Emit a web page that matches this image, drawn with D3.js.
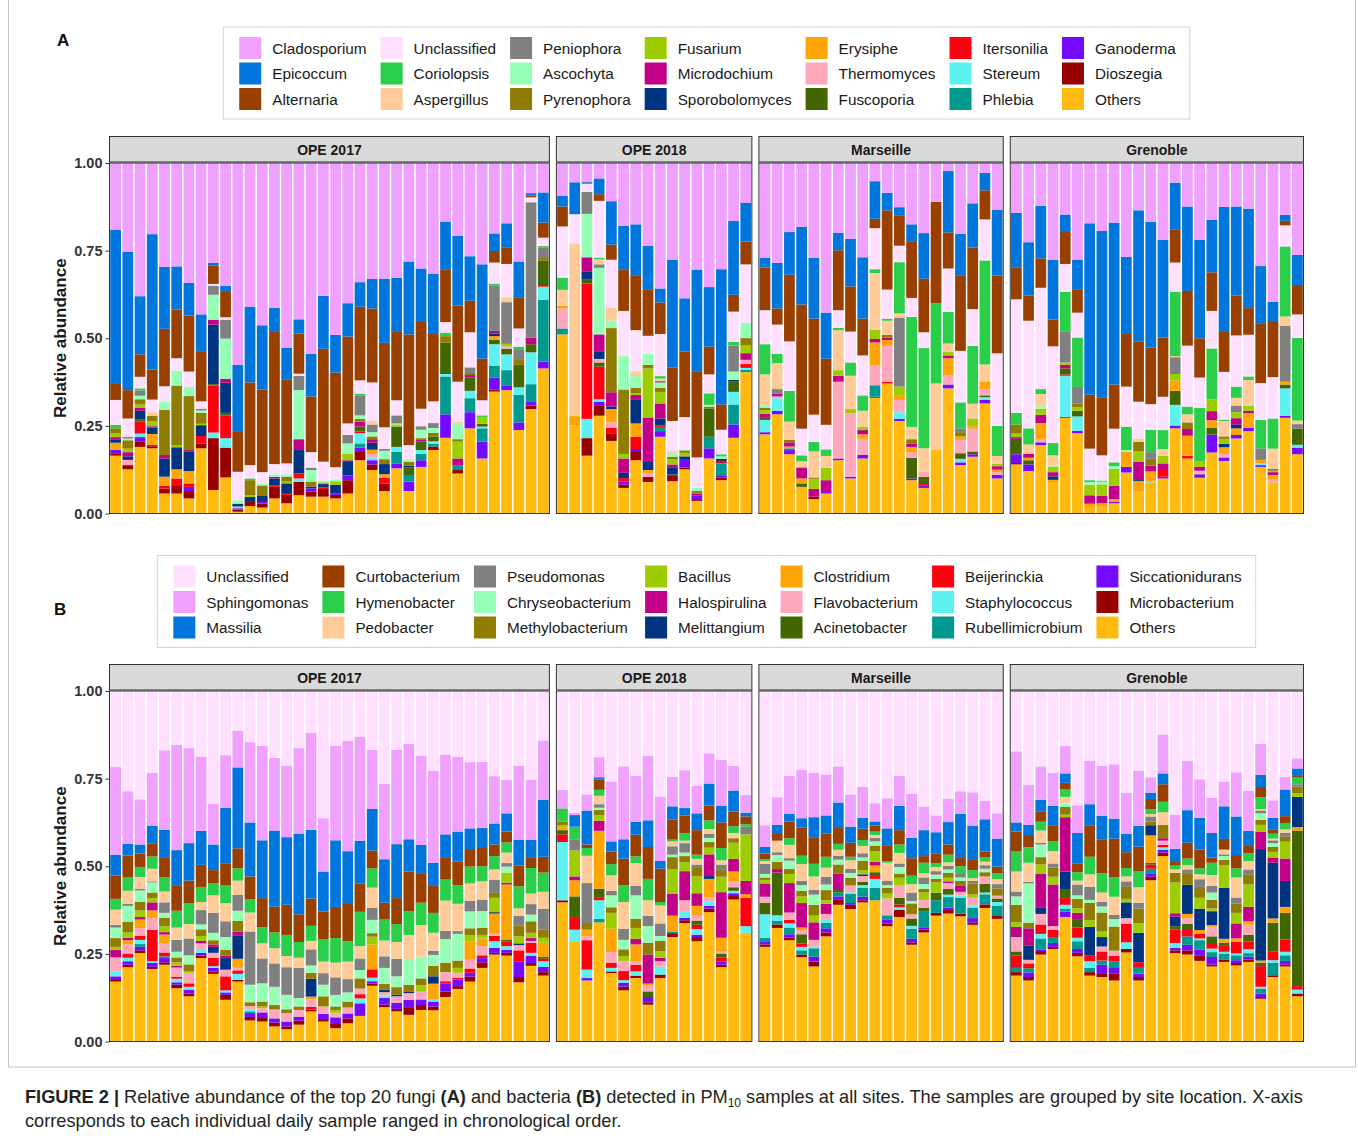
<!DOCTYPE html>
<html>
<head>
<meta charset="utf-8">
<script src="https://cdn.jsdelivr.net/npm/d3@7"></script>
<style>
  body { margin: 0; background: #fff; }
  svg { display: block; font-family: "Liberation Sans", Arial, sans-serif; }
</style>
</head>
<body>
<div id="chart"></div>
<script>
// ── Categories ────────────────────────────────────────────────────────────────
const SITES = ["OPE 2017", "OPE 2018", "Marseille", "Grenoble"];
const Y_TICKS = [0, 0.25, 0.5, 0.75, 1];

// stacking order: first taxon on top, "Others" at the bottom
const FUNGI_TAXA = ["Cladosporium", "Epicoccum", "Alternaria", "Unclassified", "Coriolopsis", "Aspergillus",
    "Peniophora", "Ascochyta", "Pyrenophora", "Fusarium", "Microdochium", "Sporobolomyces", "Erysiphe",
    "Thermomyces", "Fuscoporia", "Itersonilia", "Stereum", "Phlebia", "Ganoderma", "Dioszegia", "Others"];
const FUNGI_KEYS = ["Cl", "Ep", "Al", "Un", "Co", "As", "Pe", "Ac", "Py", "Fu", "Mi", "Sp", "Er",
    "Th", "Fs", "It", "St", "Ph", "Ga", "Di", "Ot"];
const FUNGI_COLORS = ["#F0A0FF", "#0075DC", "#993F00", "#FFE1FF", "#2BCE48", "#FFCC99", "#808080", "#94FFB5",
    "#8F7C00", "#9DCC00", "#C20088", "#003380", "#FFA405", "#FFA8BB", "#426600", "#FF0010", "#5EF1F2",
    "#00998F", "#740AFF", "#990000", "#FFB90F"];

const BACT_TAXA = ["Unclassified", "Sphingomonas", "Massilia", "Curtobacterium", "Hymenobacter", "Pedobacter",
    "Pseudomonas", "Chryseobacterium", "Methylobacterium", "Bacillus", "Halospirulina", "Melittangium",
    "Clostridium", "Flavobacterium", "Acinetobacter", "Beijerinckia", "Staphylococcus", "Rubellimicrobium",
    "Siccationidurans", "Microbacterium", "Others"];
const BACT_KEYS = ["Un", "Sg", "Ma", "Cu", "Hy", "Pd", "Ps", "Ch", "Me", "Ba", "Ha", "Ml", "Cs", "Fl",
    "Ac", "Be", "St", "Ru", "Si", "Mb", "Ot"];
const BACT_COLORS = ["#FFE1FF", "#F0A0FF", "#0075DC", "#993F00", "#2BCE48", "#FFCC99", "#808080", "#94FFB5",
    "#8F7C00", "#9DCC00", "#C20088", "#003380", "#FFA405", "#FFA8BB", "#426600", "#FF0010", "#5EF1F2",
    "#00998F", "#740AFF", "#990000", "#FFB90F"];

// ── Fungi: one object per daily sample ─────────────────────────────────────────
const fungiOPE2017 = [
    {Ot:.165,Di:.007,Ga:.01,Sp:.008,Py:.015,Er:.02,Mi:.008,Fu:.01,Co:.01,Un:.071,Al:.048,Ep:.438,Cl:.19},
    {Ot:.126,Di:.012,Sp:.01,Th:.015,Mi:.012,Py:.024,Fu:.01,Pe:.005,Ac:.005,Un:.052,Al:.081,Ep:.395,Cl:.253},
    {Ot:.19,Di:.016,Ga:.012,St:.01,It:.035,Fs:.005,Sp:.025,Mi:.008,Py:.015,Fu:.01,Ac:.01,Pe:.015,Co:.006,Un:.033,Al:.064,Ep:.166,Cl:.38},
    {Ot:.186,Di:.006,It:.004,Er:.031,Sp:.018,Mi:.004,Fu:.014,Py:.016,As:.01,Un:.036,Al:.086,Ep:.386,Cl:.203},
    {Ot:.057,Di:.014,It:.008,Er:.026,Sp:.052,Mi:.01,Py:.129,Ac:.024,Un:.043,Al:.164,Ep:.177,Cl:.296},
    {Ot:.057,Di:.024,It:.019,Er:.026,Sp:.063,Fu:.005,Py:.171,Ac:.043,Un:.035,Al:.139,Ep:.123,Cl:.295},
    {Ot:.043,Di:.021,Ga:.012,It:.01,Er:.035,Sp:.055,Mi:.005,Py:.154,Ac:.027,Un:.043,Al:.16,Ep:.093,Cl:.342},
    {Ot:.186,Di:.014,It:.021,Sp:.031,Fu:.004,Py:.031,Ac:.007,Pe:.005,Un:.021,Al:.141,Ep:.107,Cl:.432},
    {Ot:.067,Di:.148,St:.016,It:.134,Fs:.004,Sp:.17,Mi:.014,Ac:.071,Pe:.026,Un:.005,Al:.053,Ep:.007,Cl:.285},
    {Ot:.103,Di:.085,St:.027,It:.064,Fs:.008,Sp:.086,Mi:.011,Ac:.115,Pe:.054,Un:.007,Al:.072,Ep:.018,Cl:.35},
    {Ot:.005,Di:.006,Ga:.004,Sp:.008,St:.005,Ac:.01,Un:.081,Al:.116,Ep:.189,Cl:.576},
    {Ot:.021,Di:.012,Sp:.014,Fu:.005,Py:.043,Co:.005,Un:.038,Al:.236,Ep:.216,Cl:.41},
    {Ot:.017,Di:.011,Ga:.005,Sp:.017,Py:.03,Ac:.006,Un:.032,Al:.236,Ep:.183,Cl:.463},
    {Ot:.043,Di:.033,It:.005,Sp:.019,Mi:.005,Ac:.007,Un:.029,Al:.377,Ep:.069,Cl:.413},
    {Ot:.029,Di:.024,It:.003,Sp:.03,Py:.014,Fu:.005,Ac:.007,Un:.031,Al:.24,Ep:.09,Cl:.527},
    {Ot:.052,Di:.038,It:.014,St:.01,Sp:.067,Mi:.031,Ac:.14,Pe:.041,Un:.006,Al:.114,Ep:.041,Cl:.446},
    {Ot:.048,Di:.014,Ga:.01,Sp:.005,Py:.014,Ac:.033,Pe:.007,Un:.044,Al:.159,Ep:.121,Cl:.545},
    {Ot:.048,Di:.022,It:.004,Sp:.01,Fu:.005,Ac:.005,Un:.054,Al:.322,Ep:.151,Cl:.379},
    {Ot:.043,Di:.01,Ga:.005,Sp:.024,Fu:.01,Ac:.005,Un:.035,Al:.27,Ep:.108,Cl:.49},
    {Ot:.057,Di:.038,Ga:.014,Sp:.038,Mi:.005,Fu:.019,Ac:.029,Pe:.024,Un:.033,Al:.248,Ep:.095,Cl:.4},
    {Ot:.152,Di:.026,Ga:.01,Ph:.012,St:.029,It:.005,Fs:.014,Mi:.014,Py:.008,Ac:.01,Pe:.057,Co:.005,Un:.038,Al:.21,Ep:.07,Cl:.34},
    {Ot:.124,Di:.016,Ga:.012,St:.008,Er:.012,Sp:.02,Mi:.01,Th:.01,Ac:.012,Pe:.022,Py:.008,As:.01,Un:.11,Al:.211,Ep:.084,Cl:.331},
    {Ot:.064,Di:.022,It:.016,Sp:.029,Er:.01,Py:.014,Ac:.024,Pe:.005,Un:.062,Al:.241,Ep:.183,Cl:.33},
    {Ot:.129,Ga:.014,Ph:.033,St:.014,Fs:.057,Fu:.007,Pe:.023,Ac:.003,Un:.043,Al:.195,Ep:.154,Cl:.328},
    {Ot:.064,Ga:.027,Ph:.019,Fs:.021,Sp:.006,Py:.01,Ac:.008,Un:.04,Al:.316,Ep:.208,Cl:.281},
    {Ot:.133,Ga:.019,Ph:.019,St:.01,Fs:.024,Mi:.005,Py:.005,Ac:.024,Pe:.01,Un:.05,Al:.25,Ep:.15,Cl:.301},
    {Ot:.181,Di:.01,St:.007,Ph:.008,Fs:.014,Py:.01,Ac:.014,Pe:.014,Un:.062,Al:.192,Ep:.172,Cl:.316},
    {Ot:.216,Ga:.067,Ph:.108,St:.007,Fs:.089,Py:.019,Co:.01,Un:.03,Al:.149,Ep:.138,Cl:.167},
    {Ot:.114,Di:.01,Ph:.014,Mi:.019,Fu:.048,Py:.007,Ac:.046,As:.004,Un:.114,Al:.217,Ep:.199,Cl:.208},
    {Ot:.243,Ga:.046,Ph:.04,St:.021,Fs:.038,Mi:.007,Py:.006,Pe:.016,Un:.1,Al:.09,Ep:.127,Cl:.266},
    {Ot:.157,Ga:.048,Ph:.038,St:.005,Fu:.019,Fs:.008,Co:.005,Un:.043,Al:.119,Ep:.269,Cl:.289},
    {Ot:.348,Di:.005,Ga:.035,Ph:.034,St:.061,Fs:.012,Sp:.007,Mi:.008,Er:.011,Pe:.13,Co:.005,Un:.06,Al:.033,Ep:.05,Cl:.201},
    {Ot:.352,Ga:.012,Ph:.045,St:.045,Fs:.016,Th:.007,As:.014,Pe:.119,Fu:.007,Un:.095,Al:.046,Ep:.07,Cl:.172},
    {Ot:.238,Ga:.022,Ph:.078,St:.022,Fs:.064,Py:.014,Pe:.031,Co:.007,Un:.052,Al:.089,Ep:.102,Cl:.281},
    {Ot:.298,Di:.01,Ga:.01,Ph:.051,St:.091,Fs:.023,Mi:.019,Pe:.386,Un:.014,Al:.005,Ep:.007,Cl:.086},
    {Ot:.414,Ga:.019,Ph:.176,St:.038,It:.005,Fs:.069,Py:.008,Pe:.029,Co:.005,Un:.024,Al:.043,Ep:.086,Cl:.084}
];

const fungiOPE2018 = [
    {Ot:.511,Ph:.017,Th:.057,Er:.008,As:.045,Co:.035,Un:.146,Al:.057,Ep:.031,Cl:.093},
    {Ot:.252,Er:.026,As:.493,Un:.083,Ep:.091,Cl:.055},
    {Ot:.165,Di:.05,St:.055,It:.386,Fs:.011,Sp:.024,Mi:.04,Ac:.124,Pe:.063,Un:.023,Al:.003,Ep:.003,Cl:.053},
    {Ot:.279,Di:.03,Ga:.01,St:.007,It:.093,Th:.01,Fs:.012,Sp:.022,Mi:.048,Ac:.19,Pe:.01,As:.014,Co:.005,Un:.162,Al:.019,Ep:.045,Cl:.044},
    {Ot:.207,Di:.022,It:.016,Th:.015,Er:.038,Sp:.007,Mi:.041,Py:.183,Ac:.021,As:.038,Un:.136,Al:.043,Ep:.124,Cl:.109},
    {Ot:.073,Di:.01,Ga:.008,It:.01,Sp:.015,Mi:.041,Fu:.013,Py:.184,Ac:.095,Un:.129,Al:.119,Ep:.124,Cl:.179},
    {Ot:.152,Di:.026,Ga:.006,It:.035,Er:.038,Sp:.069,Mi:.012,Fu:.005,Py:.016,Ac:.033,As:.014,Un:.117,Al:.157,Ep:.145,Cl:.175},
    {Ot:.09,Di:.014,Th:.01,Er:.01,Sp:.023,Mi:.127,Fu:.14,Py:.01,Ac:.031,Un:.052,Al:.133,Ep:.124,Cl:.236},
    {Ot:.219,Ga:.016,Ph:.012,It:.005,Sp:.019,Mi:.043,Fu:.033,Py:.012,As:.007,Pe:.005,Ac:.014,Co:.007,Un:.12,Al:.09,Ep:.04,Cl:.358},
    {Ot:.092,Di:.015,It:.004,Sp:.019,Mi:.01,Fu:.014,Py:.008,Ac:.011,As:.005,Un:.086,Al:.152,Ep:.308,Cl:.276},
    {Ot:.126,Di:.005,Ga:.022,Sp:.01,Fu:.01,Py:.007,Ac:.003,Un:.092,Al:.187,Ep:.152,Cl:.386},
    {Ot:.036,Ga:.011,Di:.005,Mi:.005,Py:.007,Ac:.01,Un:.086,Al:.244,Ep:.292,Cl:.304},
    {Ot:.157,Ga:.029,Ph:.033,Fs:.081,Py:.005,Ac:.005,Co:.033,Un:.054,Al:.079,Ep:.17,Cl:.354},
    {Ot:.095,Ga:.005,Ph:.036,It:.007,Di:.007,Sp:.006,Ac:.007,Co:.006,Un:.07,Al:.072,Ep:.386,Cl:.303},
    {Ot:.216,Ga:.038,Ph:.057,St:.036,Fs:.029,Sp:.005,Ac:.024,Pe:.074,Co:.011,Un:.086,Al:.048,Ep:.211,Cl:.165},
    {Ot:.403,Ph:.007,St:.005,It:.011,Th:.012,Mi:.019,Fu:.022,Py:.021,Ac:.043,Un:.167,Al:.065,Ep:.111,Cl:.113}
];

const fungiMarseille = [
    {Ot:.226,Ga:.006,St:.035,Py:.007,Fs:.008,Mi:.01,Fu:.01,Ac:.005,As:.09,Co:.086,Un:.097,Al:.122,Ep:.027,Cl:.271},
    {Ot:.283,Ga:.01,St:.036,Th:.005,Mi:.008,Pe:.013,As:.074,Co:.027,Un:.083,Al:.046,Ep:.13,Cl:.285},
    {Ot:.169,Ga:.012,Ph:.005,Er:.005,Mi:.012,Py:.007,As:.052,Co:.088,Un:.141,Al:.19,Ep:.122,Cl:.197},
    {Ot:.076,Er:.014,Mi:.03,Fs:.01,Fu:.003,As:.016,Co:.017,Un:.076,Al:.354,Ep:.222,Cl:.182},
    {Ot:.041,Di:.007,Mi:.022,Fu:.029,Py:.004,As:.074,Co:.027,Un:.078,Al:.274,Ep:.173,Cl:.271},
    {Ot:.057,Ga:.007,Mi:.031,Fu:.035,As:.034,Co:.019,Un:.07,Al:.189,Ep:.131,Cl:.427},
    {Ot:.152,Ga:.005,Th:.219,Mi:.017,Fu:.016,As:.114,Co:.007,Un:.05,Al:.171,Ep:.05,Cl:.199},
    {Ot:.1,Ga:.005,Th:.181,Fu:.012,As:.095,Co:.038,Un:.088,Al:.129,Ep:.136,Cl:.216},
    {Ot:.157,Ga:.01,Th:.046,Er:.013,Mi:.012,Fu:.01,As:.045,Co:.044,Un:.114,Al:.105,Ep:.175,Cl:.269},
    {Ot:.33,Ga:.003,Ph:.033,Th:.057,Er:.065,Mi:.01,Fu:.026,As:.162,Co:.011,Un:.117,Al:.027,Ep:.107,Cl:.052},
    {Ot:.371,Th:.102,Er:.017,It:.005,Mi:.007,Py:.008,As:.04,Co:.006,Un:.083,Al:.226,Ep:.05,Cl:.085},
    {Ot:.264,Ga:.006,St:.019,Th:.035,Er:.012,Fu:.026,Pe:.197,As:.012,Co:.146,Un:.047,Al:.087,Ep:.023,Cl:.126},
    {Ot:.095,Ga:.005,Fs:.059,Th:.015,Er:.016,Mi:.01,Py:.012,As:.035,Co:.314,Un:.054,Al:.162,Ep:.048,Cl:.175},
    {Ot:.073,Ga:.006,Fs:.021,Th:.014,It:.005,As:.067,Co:.286,Un:.045,Al:.153,Ep:.13,Cl:.2},
    {Ot:.181,As:.19,Co:.229,Al:.289,Cl:.111},
    {Ot:.357,Ga:.011,Th:.027,Er:.048,Mi:.008,Fu:.01,As:.024,Co:.09,Un:.124,Al:.103,Ep:.175,Cl:.023},
    {Ot:.138,Ga:.008,St:.01,Fs:.016,Th:.038,Er:.01,Py:.012,Pe:.011,Co:.074,Un:.147,Al:.214,Ep:.12,Cl:.202},
    {Ot:.162,Ga:.007,Fs:.008,Th:.065,Er:.007,Fu:.022,As:.042,Co:.165,Un:.105,Al:.176,Ep:.126,Cl:.115},
    {Ot:.314,Ga:.01,Fs:.005,Th:.017,Er:.023,St:.008,As:.048,Co:.297,Un:.117,Al:.083,Ep:.05,Cl:.028},
    {Ot:.1,Ga:.01,Th:.008,Er:.007,Mi:.01,Fu:.007,As:.022,Co:.086,Un:.207,Al:.222,Ep:.188,Cl:.133}
];

const fungiGrenoble = [
    {Ot:.14,Ga:.025,Di:.004,Fs:.044,Py:.026,Fu:.01,Mi:.005,Co:.033,Un:.324,Al:.09,Ep:.157,Cl:.142},
    {Ot:.121,Ga:.019,Fs:.012,Mi:.012,Er:.007,As:.026,Co:.046,Un:.307,Al:.072,Ep:.152,Cl:.226},
    {Ot:.195,Ga:.008,Th:.01,Er:.045,Mi:.024,Fu:.017,Ac:.007,As:.035,Co:.014,Un:.289,Al:.084,Ep:.15,Cl:.122},
    {Ot:.086,Sp:.01,Er:.01,Mi:.012,Fu:.016,Ac:.003,As:.029,Co:.035,Un:.276,Al:.076,Ep:.171,Cl:.276},
    {Ot:.273,Ga:.003,St:.117,It:.004,Fs:.017,Mi:.01,Fu:.007,Pe:.089,Co:.112,Un:.08,Al:.091,Ep:.05,Cl:.147},
    {Ot:.229,Ga:.007,St:.041,Fs:.016,Fu:.01,Py:.01,Pe:.048,Co:.141,Un:.071,Al:.067,Ep:.084,Cl:.276},
    {Ot:.016,Er:.012,Mi:.024,Fu:.03,Ac:.008,Co:.005,Un:.09,Al:.154,Ep:.489,Cl:.172},
    {Ot:.019,Er:.01,Mi:.022,Fu:.032,Ac:.008,Co:.003,Un:.072,Al:.164,Ep:.476,Cl:.194},
    {Ot:.029,Ga:.005,Er:.007,Mi:.038,Fu:.048,Ac:.008,Co:.011,Un:.096,Al:.126,Ep:.462,Cl:.17},
    {Ot:.117,Ga:.016,Er:.043,Ac:.005,Co:.067,Un:.114,Al:.15,Ep:.22,Cl:.268},
    {Ot:.062,Sp:.005,Er:.031,Mi:.05,Fu:.029,Py:.027,As:.01,Un:.105,Al:.171,Ep:.375,Cl:.135},
    {Ot:.089,St:.004,Er:.027,Mi:.017,Py:.019,Pe:.019,Co:.064,Un:.073,Al:.162,Ep:.358,Cl:.168},
    {Ot:.1,Ga:.005,It:.019,Mi:.019,Fu:.022,As:.019,Co:.054,Un:.095,Al:.169,Ep:.279,Cl:.219},
    {Ot:.243,Ga:.008,St:.059,Fs:.04,Er:.029,Fu:.019,Pe:.048,As:.003,Co:.184,Un:.083,Al:.095,Ep:.133,Cl:.056},
    {Ot:.157,It:.008,Er:.057,Mi:.019,Py:.019,As:.023,Co:.022,Un:.174,Al:.156,Ep:.241,Cl:.124},
    {Ot:.102,Ga:.01,Th:.01,Fu:.015,Mi:.011,Co:.154,Un:.086,Al:.112,Ep:.281,Cl:.219},
    {Ot:.174,Ga:.051,Fs:.019,Er:.022,Mi:.026,Fu:.034,Co:.145,Un:.107,Al:.11,Ep:.15,Cl:.162},
    {Ot:.15,Ga:.01,Th:.01,Sp:.01,Er:.019,Fu:.014,Py:.007,As:.044,Co:.004,Un:.136,Al:.114,Ep:.357,Cl:.125},
    {Ot:.214,Ga:.01,Sp:.01,Er:.019,Mi:.019,Fu:.017,Pe:.019,As:.022,Co:.032,Un:.146,Al:.114,Ep:.254,Cl:.124},
    {Ot:.235,Ga:.01,Er:.041,Mi:.007,Fu:.015,As:.073,Co:.01,Un:.119,Al:.076,Ep:.284,Cl:.13},
    {Ot:.133,Ga:.005,St:.005,Er:.01,Pe:.033,Co:.081,Un:.105,Al:.169,Ep:.165,Cl:.294},
    {Ot:.089,Th:.007,Er:.014,Mi:.008,Fu:.004,Py:.006,As:.057,Co:.086,Un:.118,Al:.16,Ep:.055,Cl:.396},
    {Ot:.273,Ga:.006,St:.078,Fs:.011,Er:.008,Pe:.16,As:.026,Co:.2,Un:.06,Al:.013,Ep:.017,Cl:.148},
    {Ot:.169,Ga:.019,St:.008,Fs:.046,Pe:.013,As:.01,Co:.236,Un:.067,Al:.084,Ep:.086,Cl:.262}
];

// ── Bacteria: one object per daily sample ──────────────────────────────────────
const bactOPE2017 = [
    {Ot:.171,Mb:.007,Si:.008,St:.014,Fl:.04,Ha:.022,Ba:.008,Me:.025,Ch:.03,Ps:.008,Pd:.043,Hy:.031,Cu:.067,Ma:.059,Sg:.25,Un:.217},
    {Ot:.212,Mb:.007,Si:.01,St:.01,Be:.012,Fl:.026,Cs:.012,Ha:.007,Ba:.016,Me:.03,Ch:.045,Ps:.006,Pd:.037,Hy:.038,Cu:.063,Ma:.033,Sg:.15,Un:.286},
    {Ot:.252,Mb:.008,Si:.01,Be:.012,St:.012,Ru:.008,Ha:.007,Fl:.022,Cs:.024,Ba:.019,Me:.024,Ch:.033,Ps:.005,Pd:.033,Hy:.029,Cu:.038,Ma:.026,Sg:.129,Un:.309},
    {Ot:.207,Mb:.006,Si:.011,St:.005,Be:.09,Fl:.033,Cs:.022,Ha:.023,Ba:.012,Me:.016,Ch:.029,Ps:.003,Pd:.036,Hy:.035,Cu:.036,Ma:.052,Sg:.15,Un:.234},
    {Ot:.219,Mb:.007,Si:.012,Ru:.005,Be:.011,Fl:.027,Cs:.024,Ha:.007,Ba:.017,Me:.024,Ch:.014,Ps:.03,Pd:.031,Hy:.04,Cu:.058,Ma:.078,Sg:.227,Un:.169},
    {Ot:.152,Mb:.01,Si:.007,St:.01,Be:.006,Fl:.026,Ha:.005,Ba:.01,Me:.014,Ch:.016,Ps:.034,Pd:.035,Hy:.048,Cu:.071,Ma:.102,Sg:.3,Un:.154},
    {Ot:.129,Mb:.008,Si:.011,St:.008,Be:.01,Fl:.03,Ba:.005,Me:.019,Ch:.026,Ps:.048,Pd:.041,Hy:.059,Cu:.065,Ma:.107,Sg:.271,Un:.163},
    {Ot:.238,Mb:.007,Si:.008,St:.008,Fl:.019,Ha:.007,Ba:.014,Me:.019,Ch:.014,Ps:.041,Pd:.023,Hy:.043,Cu:.063,Ma:.097,Sg:.212,Un:.187},
    {Ot:.193,Mb:.007,Si:.01,St:.005,Be:.024,Fl:.014,Ml:.017,Ha:.007,Me:.012,Ch:.021,Ps:.057,Pd:.05,Hy:.034,Cu:.038,Ma:.073,Sg:.117,Un:.321},
    {Ot:.119,Mb:.014,Si:.007,St:.006,Be:.04,Fl:.019,Ml:.033,Ha:.007,Me:.017,Ch:.036,Ps:.045,Pd:.052,Hy:.05,Cu:.062,Ma:.16,Sg:.15,Un:.183},
    {Ot:.171,Mb:.005,St:.017,Be:.01,Fl:.007,Cs:.026,Ml:.067,Ha:.01,Me:.031,Ch:.029,Ps:.045,Pd:.041,Hy:.035,Cu:.057,Ma:.231,Sg:.105,Un:.113},
    {Ot:.06,Mb:.01,Si:.011,Ru:.005,St:.005,Fl:.01,Me:.011,Ch:.05,Ps:.152,Pd:.054,Hy:.038,Cu:.065,Ma:.154,Sg:.229,Un:.146},
    {Ot:.057,Mb:.01,Si:.016,Fl:.012,Ba:.005,Me:.014,Ch:.052,Ps:.071,Pd:.043,Hy:.046,Cu:.083,Ma:.165,Sg:.27,Un:.156},
    {Ot:.043,Mb:.011,Si:.012,Fl:.024,Ba:.002,Me:.012,Ch:.052,Ps:.067,Pd:.043,Hy:.045,Cu:.074,Ma:.217,Sg:.207,Un:.191},
    {Ot:.035,Mb:.008,Si:.014,Fl:.024,Me:.011,Ch:.041,Ps:.079,Pd:.032,Hy:.06,Cu:.086,Ma:.193,Sg:.204,Un:.213},
    {Ot:.048,Mb:.012,Si:.011,Fl:.019,Me:.01,Ch:.024,Ps:.086,Pd:.029,Hy:.045,Cu:.079,Ma:.229,Sg:.245,Un:.163},
    {Ot:.086,Mb:.005,Be:.008,Fl:.021,Cs:.008,Ml:.051,Me:.017,Ch:.021,Ps:.046,Pd:.024,Hy:.043,Cu:.078,Ma:.196,Sg:.276,Un:.12},
    {Ot:.057,Mb:.007,Si:.015,Fl:.021,Me:.029,Ch:.033,Ps:.033,Pd:.033,Hy:.064,Cu:.079,Ma:.114,Sg:.152,Un:.363},
    {Ot:.038,Mb:.012,Si:.019,Fl:.013,Ba:.008,Me:.01,Ch:.033,Ps:.05,Pd:.042,Hy:.07,Cu:.089,Ma:.19,Sg:.27,Un:.156},
    {Ot:.052,Mb:.014,Si:.014,Fl:.017,Me:.017,Ch:.026,Ps:.038,Pd:.05,Hy:.058,Cu:.109,Ma:.148,Sg:.315,Un:.142},
    {Ot:.073,Si:.036,St:.014,Be:.012,Fl:.016,Me:.029,Ch:.024,Ps:.033,Pd:.035,Hy:.098,Cu:.081,Ma:.122,Sg:.297,Un:.13},
    {Ot:.159,Mb:.006,Si:.007,St:.01,Be:.024,Cs:.071,Ba:.022,Me:.01,Ch:.038,Ps:.035,Pd:.057,Hy:.055,Cu:.051,Ma:.119,Sg:.168,Un:.168},
    {Ot:.098,Mb:.007,Si:.019,St:.007,Fl:.01,Ml:.007,Me:.016,Ch:.046,Ps:.033,Pd:.045,Hy:.06,Cu:.048,Ma:.124,Sg:.216,Un:.264},
    {Ot:.086,Mb:.007,Si:.017,Fl:.019,Ml:.005,Me:.021,Ch:.031,Ps:.05,Pd:.048,Hy:.051,Cu:.074,Ma:.154,Sg:.27,Un:.167},
    {Ot:.076,Mb:.022,Si:.021,Fl:.019,Ml:.005,Me:.019,Ch:.071,Pd:.071,Hy:.067,Cu:.114,Ma:.092,Sg:.272,Un:.151},
    {Ot:.09,Mb:.014,Si:.016,Fl:.022,Ba:.019,Me:.019,Ch:.062,Pd:.09,Hy:.064,Cu:.082,Ma:.083,Sg:.254,Un:.185},
    {Ot:.089,Mb:.011,Si:.014,St:.007,Cs:.044,Ml:.021,Me:.03,Ch:.031,Ps:.012,Pd:.051,Hy:.057,Cu:.079,Ma:.064,Sg:.263,Un:.227},
    {Ot:.127,Mb:.016,Si:.022,Be:.007,Fl:.026,Me:.027,Ch:.067,Ps:.024,Pd:.086,Hy:.06,Cu:.064,Ma:.065,Sg:.228,Un:.181},
    {Ot:.15,Mb:.008,Si:.019,Be:.005,Fl:.014,Ba:.014,Me:.021,Ch:.076,Ps:.008,Pd:.078,Hy:.053,Cu:.067,Ma:.086,Sg:.213,Un:.188},
    {Ot:.171,Mb:.014,Si:.011,Be:.012,Fl:.025,Cs:.052,Ba:.018,Me:.02,Ch:.048,Ps:.03,Pd:.05,Hy:.048,Cu:.05,Ma:.059,Sg:.189,Un:.203},
    {Ot:.21,Mb:.016,Si:.012,Be:.008,Fl:.026,Cs:.022,Ba:.01,Me:.02,Ch:.048,Ps:.033,Pd:.052,Hy:.043,Cu:.052,Ma:.057,Sg:.189,Un:.202},
    {Ot:.248,Mb:.005,Si:.014,St:.019,Be:.016,Fl:.006,Cs:.057,Ml:.004,Ba:.041,Me:.014,Ps:.038,Pd:.029,Hy:.038,Cu:.033,Ma:.06,Sg:.135,Un:.243},
    {Ot:.245,Mb:.008,Si:.008,St:.011,Be:.014,Ac:.005,Cs:.157,Ha:.005,Ba:.029,Ps:.01,Ch:.017,Pd:.03,Hy:.029,Cu:.031,Ma:.052,Sg:.095,Un:.254},
    {Ot:.169,Mb:.015,Si:.045,Be:.031,Fl:.015,Ml:.005,Ba:.02,Me:.03,Ps:.029,Pd:.021,Hy:.063,Cu:.059,Ma:.074,Sg:.211,Un:.213},
    {Ot:.216,Mb:.008,Si:.021,St:.008,Be:.029,Fl:.005,Ha:.008,Ba:.015,Me:.033,Ch:.019,Ps:.03,Pd:.03,Hy:.073,Cu:.031,Ma:.05,Sg:.171,Un:.253},
    {Ot:.188,Mb:.01,Si:.015,St:.016,Be:.007,Cs:.041,Ac:.005,Ba:.014,Me:.024,Ps:.059,Pd:.048,Hy:.055,Cu:.045,Ma:.163,Sg:.169,Un:.141}
];

const bactOPE2018 = [
    {Ot:.397,Mb:.006,St:.166,Be:.022,Ac:.012,Me:.01,Ba:.007,Cs:.007,Hy:.038,Sg:.053,Un:.282},
    {Ot:.286,St:.033,Be:.036,Ac:.059,Cs:.046,Ha:.011,Ba:.074,Ps:.032,Hy:.036,Ma:.033,Sg:.007,Un:.347},
    {Ot:.174,Si:.007,St:.024,Be:.084,Fl:.011,Cs:.019,Me:.019,Ps:.114,Pd:.078,Hy:.022,Cu:.01,Ma:.097,Sg:.046,Un:.295},
    {Ot:.34,Ru:.01,St:.053,Be:.007,Ac:.026,Cs:.165,Ha:.029,Ba:.016,Me:.015,Ch:.006,Ps:.01,Pd:.024,Hy:.017,Cu:.029,Ma:.007,Sg:.057,Un:.189},
    {Ot:.195,Mb:.005,St:.01,Be:.014,Fl:.031,Cs:.067,Ba:.045,Me:.016,Ch:.034,Ps:.013,Pd:.044,Hy:.032,Cu:.036,Ma:.029,Sg:.171,Un:.258},
    {Ot:.146,Mb:.011,Si:.01,St:.008,Be:.026,Fl:.029,Ba:.014,Me:.019,Ch:.027,Ps:.032,Pd:.076,Hy:.048,Cu:.076,Ma:.055,Sg:.208,Un:.215},
    {Ot:.181,Mb:.007,St:.012,Be:.019,Fl:.01,Cs:.048,Ha:.016,Ba:.031,Me:.026,Ch:.067,Ps:.027,Pd:.065,Hy:.019,Cu:.062,Ma:.037,Sg:.131,Un:.242},
    {Ot:.105,Mb:.007,Si:.015,Ac:.016,Fl:.016,Cs:.006,Ha:.083,Me:.033,Ch:.048,Ps:.03,Pd:.044,Hy:.061,Cu:.091,Ma:.076,Sg:.185,Un:.184},
    {Ot:.181,Mb:.01,St:.022,Fl:.016,Ha:.01,Ba:.019,Me:.029,Ch:.014,Ps:.036,Pd:.051,Hy:.01,Cu:.095,Ma:.022,Sg:.184,Un:.301},
    {Ot:.298,Mb:.011,Ru:.005,Cs:.045,Ha:.063,Ba:.07,Me:.034,Ch:.007,Ps:.024,Pd:.014,Hy:.005,Cu:.057,Ma:.038,Sg:.084,Un:.245},
    {Ot:.338,Mb:.008,Si:.007,St:.019,Fl:.031,Ha:.083,Ba:.026,Me:.017,Ch:.01,Ps:.027,Pd:.007,Hy:.022,Cu:.05,Ma:.021,Sg:.108,Un:.226},
    {Ot:.286,Mb:.012,Si:.007,St:.016,Be:.012,Ac:.012,Fl:.016,Cs:.026,Ha:.036,Ba:.048,Me:.024,Ps:.01,Pd:.016,Hy:.012,Cu:.07,Ma:.048,Sg:.078,Un:.271},
    {Ot:.369,Mb:.01,Si:.008,Ml:.008,St:.013,Fl:.012,Cs:.052,Ha:.062,Ba:.019,Me:.016,Ch:.012,Ps:.012,Pd:.013,Hy:.025,Cu:.042,Ma:.063,Sg:.086,Un:.178},
    {Ot:.212,Mb:.007,Si:.01,Be:.01,Ac:.012,Fl:.007,Cs:.038,Ha:.13,Ba:.044,Me:.019,Ps:.016,Pd:.012,Hy:.035,Cu:.073,Ma:.048,Sg:.13,Un:.197},
    {Ot:.405,Mb:.01,Si:.008,St:.007,Ac:.01,Fl:.016,Cs:.029,Ha:.036,Ba:.046,Me:.013,Pd:.015,Hy:.019,Cu:.042,Ma:.06,Sg:.07,Un:.214},
    {Ot:.31,St:.019,Be:.081,Cs:.01,Ha:.038,Ba:.133,Ps:.022,Hy:.007,Cu:.022,Ma:.011,Sg:.05,Un:.297}
];

const bactMarseille = [
    {Ot:.27,Mb:.007,Si:.007,Ru:.012,St:.067,Ac:.033,Fl:.017,Ha:.038,Ba:.01,Me:.007,Ch:.01,Ps:.029,Pd:.008,Hy:.005,Cu:.016,Ma:.019,Sg:.062,Un:.383},
    {Ot:.324,Mb:.01,Ru:.01,St:.016,Ac:.122,Me:.021,Ha:.01,Ch:.019,Ps:.008,Pd:.033,Cu:.019,Ma:.026,Sg:.079,Un:.303},
    {Ot:.289,Mb:.007,Si:.01,Ru:.019,St:.012,Be:.01,Fl:.021,Ha:.084,Ba:.026,Me:.014,Ch:.024,Ps:.007,Pd:.038,Hy:.019,Cu:.048,Ma:.022,Sg:.108,Un:.242},
    {Ot:.241,Mb:.007,Ru:.012,St:.01,Be:.01,Ac:.026,Cs:.007,Fl:.012,Ha:.07,Ba:.019,Me:.016,Ch:.016,Ps:.012,Pd:.048,Hy:.024,Cu:.081,Ma:.026,Sg:.139,Un:.224},
    {Ot:.214,Mb:.014,Si:.014,Ru:.024,St:.005,Fl:.019,Ha:.05,Ba:.019,Me:.031,Ch:.029,Ps:.014,Pd:.038,Hy:.036,Cu:.076,Ma:.057,Sg:.126,Un:.234},
    {Ot:.3,Mb:.011,Si:.012,Ru:.016,St:.008,Fl:.017,Ha:.029,Ba:.01,Me:.029,Ch:.016,Ps:.022,Pd:.026,Hy:.031,Cu:.067,Ma:.051,Sg:.117,Un:.238},
    {Ot:.39,Mb:.014,Si:.01,Ru:.011,Ac:.01,Ha:.044,Me:.026,Ch:.014,Ps:.011,Pd:.017,Hy:.017,Cu:.045,Ma:.073,Sg:.103,Un:.215},
    {Ot:.378,Mb:.012,Si:.005,Ru:.027,St:.004,Fl:.019,Me:.022,Ch:.014,Ps:.011,Pd:.025,Hy:.01,Cu:.04,Ma:.046,Sg:.092,Un:.295},
    {Ot:.397,Mb:.006,Si:.01,Ru:.026,St:.007,Ac:.01,Fl:.016,Ml:.005,Ba:.012,Me:.026,Ch:.01,Ps:.012,Pd:.021,Hy:.017,Cu:.032,Ma:.031,Sg:.089,Un:.273},
    {Ot:.403,Ru:.035,St:.026,Be:.008,Ac:.011,Cs:.019,Ha:.01,Ba:.031,Me:.016,Ch:.012,Ps:.01,Pd:.008,Hy:.01,Cu:.017,Ma:.012,Sg:.052,Un:.32},
    {Ot:.329,Mb:.008,Si:.01,Ru:.013,Fl:.048,Ch:.008,Ba:.014,Me:.016,Ps:.012,Pd:.052,Hy:.005,Cu:.045,Ma:.048,Sg:.086,Un:.306},
    {Ot:.355,Mb:.021,Be:.008,Ac:.019,St:.007,Fl:.035,Ba:.022,Me:.012,Ch:.019,Ps:.01,Pd:.03,Hy:.024,Cu:.041,Ma:.069,Sg:.086,Un:.242},
    {Ot:.276,Mb:.007,Si:.01,Ru:.029,St:.008,Ac:.021,Fl:.012,Me:.031,Ch:.007,Ps:.024,Pd:.024,Hy:.024,Cu:.05,Ma:.058,Sg:.126,Un:.293},
    {Ot:.311,Mb:.008,Si:.005,Ru:.048,Ac:.01,Fl:.022,Ba:.021,Me:.01,Ch:.014,Ps:.019,Pd:.012,Hy:.03,Cu:.019,Ma:.074,Sg:.067,Un:.33},
    {Ot:.359,Mb:.008,Ru:.036,Ac:.021,Me:.01,Ba:.03,Ch:.012,Ps:.01,Pd:.012,Hy:.01,Cu:.029,Ma:.06,Sg:.048,Un:.355},
    {Ot:.365,Mb:.01,Si:.007,Ru:.03,St:.007,Ac:.016,Fl:.017,Ha:.005,Ba:.01,Me:.014,Ch:.01,Ps:.01,Pd:.01,Hy:.022,Cu:.029,Ma:.064,Sg:.067,Un:.307},
    {Ot:.357,Mb:.008,Ru:.045,St:.007,Fl:.01,Ha:.017,Me:.014,Ch:.01,Ps:.01,Hy:.022,Cu:.026,Ma:.124,Sg:.064,Un:.286},
    {Ot:.333,Mb:.007,Si:.012,Ru:.029,St:.007,Fl:.022,Ba:.01,Me:.03,Ps:.008,Pd:.008,Hy:.023,Cu:.029,Ma:.098,Sg:.095,Un:.289},
    {Ot:.381,Mb:.01,Ru:.029,St:.005,Ac:.025,Fl:.021,Me:.012,Ch:.01,Ps:.01,Pd:.01,Hy:.012,Cu:.017,Ma:.092,Sg:.052,Un:.314},
    {Ot:.35,Mb:.008,Ru:.03,St:.01,Ac:.01,Fl:.008,Me:.021,Ps:.012,Pd:.014,Hy:.017,Cu:.019,Ma:.08,Sg:.072,Un:.349}
];

const bactGrenoble = [
    {Ot:.188,Mb:.01,Ru:.012,Be:.035,Ac:.012,Fl:.041,Ha:.029,Ba:.013,Me:.05,Ch:.024,Ps:.014,Pd:.057,Hy:.057,Cu:.057,Ma:.026,Sg:.203,Un:.172},
    {Ot:.174,Mb:.01,Si:.013,Ru:.012,Be:.014,Fl:.01,Ml:.04,Ha:.05,Me:.016,Ch:.112,Ps:.005,Pd:.054,Hy:.044,Cu:.035,Ma:.029,Sg:.114,Un:.268},
    {Ot:.248,Mb:.01,Si:.005,Ru:.031,St:.013,Be:.027,Fl:.03,Ml:.019,Ha:.095,Ba:.027,Me:.021,Ch:.036,Ps:.005,Pd:.035,Hy:.025,Cu:.03,Ma:.033,Sg:.095,Un:.215},
    {Ot:.264,Mb:.006,Si:.011,Ru:.017,Be:.021,Fl:.01,Ha:.119,Ba:.022,Me:.026,Ps:.012,Pd:.035,Hy:.029,Cu:.045,Ma:.055,Sg:.095,Un:.233},
    {Ot:.355,Si:.016,Ru:.007,St:.012,Be:.019,Ac:.024,Ml:.052,Ha:.155,Ba:.007,Me:.022,Ch:.01,Pd:.019,Hy:.021,Cu:.019,Ma:.027,Sg:.078,Un:.157},
    {Ot:.243,Mb:.01,Si:.011,Ru:.022,St:.01,Be:.029,Ac:.022,Ha:.02,Ba:.013,Me:.027,Ch:.01,Ps:.031,Pd:.011,Hy:.024,Cu:.024,Ma:.088,Sg:.079,Un:.326},
    {Ot:.188,Mb:.01,Ru:.012,St:.019,Be:.016,Ml:.082,Ba:.019,Me:.05,Ch:.008,Ps:.038,Pd:.035,Hy:.05,Cu:.09,Ma:.06,Sg:.124,Un:.199},
    {Ot:.184,Mb:.011,Si:.024,Ru:.012,Be:.026,Fl:.014,Ml:.027,Ba:.016,Me:.054,Ch:.017,Ps:.014,Pd:.026,Hy:.055,Cu:.097,Ma:.067,Sg:.143,Un:.213},
    {Ot:.174,Mb:.019,Si:.019,Ru:.016,Be:.016,Fl:.015,Me:.069,Ch:.021,Ps:.012,Pd:.052,Hy:.055,Cu:.111,Ma:.057,Sg:.155,Un:.209},
    {Ot:.254,Mb:.01,St:.019,Be:.053,Fl:.016,Ml:.045,Ba:.01,Me:.034,Ps:.016,Pd:.014,Hy:.024,Cu:.045,Ma:.053,Sg:.116,Un:.291},
    {Ot:.174,Mb:.01,Si:.01,Ru:.016,Be:.016,Ml:.084,Ba:.027,Me:.042,Ps:.017,Pd:.044,Hy:.045,Cu:.071,Ma:.059,Sg:.158,Un:.227},
    {Ot:.46,Mb:.01,Si:.01,Ru:.013,Be:.012,Ac:.005,Cs:.078,Ml:.029,Me:.01,Ps:.015,Pd:.007,Hy:.014,Cu:.029,Ma:.017,Sg:.045,Un:.246},
    {Ot:.529,Mb:.01,Si:.008,St:.007,Be:.007,Fl:.012,Ha:.007,Me:.038,Pd:.036,Hy:.03,Cu:.05,Ma:.031,Sg:.111,Un:.124},
    {Ot:.252,Mb:.008,Si:.007,St:.014,Be:.038,Ac:.01,Ml:.027,Ha:.01,Ba:.088,Me:.027,Pd:.01,Hy:.011,Cu:.01,Ma:.038,Sg:.097,Un:.353},
    {Ot:.248,Mb:.012,Si:.016,Ru:.024,Be:.021,Ac:.015,Fl:.016,Cs:.012,Ml:.083,Me:.031,Ps:.013,Pd:.012,Hy:.019,Cu:.045,Ma:.093,Sg:.141,Un:.199},
    {Ot:.23,Mb:.016,Si:.016,Ru:.027,St:.005,Be:.014,Cs:.01,Ml:.061,Ba:.031,Me:.031,Ps:.022,Pd:.014,Hy:.017,Cu:.054,Ma:.09,Sg:.11,Un:.252},
    {Ot:.214,Mb:.006,Si:.021,Ru:.014,St:.01,Be:.016,Ac:.019,Fl:.027,Cs:.005,Ml:.038,Ha:.003,Ba:.007,Me:.024,Ch:.021,Ps:.019,Pd:.031,Hy:.035,Cu:.015,Ma:.07,Sg:.101,Un:.304},
    {Ot:.227,Mb:.007,Ru:.017,St:.005,Be:.019,Ac:.007,Cs:.011,Ml:.146,Ba:.064,Me:.015,Ch:.011,Ps:.005,Pd:.012,Hy:.002,Cu:.03,Ma:.093,Sg:.071,Un:.258},
    {Ot:.217,Mb:.007,Si:.008,Ru:.014,St:.005,Be:.033,Cs:.01,Ha:.043,Ba:.03,Me:.027,Ps:.017,Pd:.057,Hy:.026,Cu:.038,Ma:.11,Sg:.126,Un:.232},
    {Ot:.227,Mb:.007,Si:.008,Ru:.01,St:.011,Be:.022,Ac:.019,Fl:.029,Cs:.01,Ha:.041,Ba:.064,Me:.029,Ps:.014,Pd:.024,Hy:.022,Cu:.021,Ma:.043,Sg:.114,Un:.285},
    {Ot:.122,Mb:.005,Si:.01,Ru:.014,St:.005,Be:.059,Ac:.01,Cs:.006,Ml:.318,Ha:.05,Ba:.019,Me:.014,Ch:.019,Ps:.008,Pd:.004,Hy:.034,Cu:.029,Ma:.035,Sg:.089,Un:.15},
    {Ot:.184,Mb:.005,Ru:.035,St:.008,Be:.024,Ac:.083,Cs:.012,Ml:.159,Ha:.015,Ba:.016,Me:.014,Ch:.011,Ps:.008,Pd:.005,Hy:.014,Cu:.011,Ma:.034,Sg:.05,Un:.312},
    {Ot:.214,Mb:.006,Si:.01,Ru:.016,St:.01,Be:.035,Ac:.076,Cs:.017,Ml:.074,Ha:.064,Ba:.048,Me:.014,Ps:.011,Pd:.01,Hy:.017,Cu:.021,Ma:.076,Sg:.036,Un:.245},
    {Ot:.129,Mb:.008,St:.011,Be:.01,Ac:.444,Cs:.01,Ml:.086,Ba:.01,Me:.019,Ps:.007,Hy:.019,Cu:.007,Ma:.019,Sg:.029,Un:.192}
];

// ── Layout ────────────────────────────────────────────────────────────────────
const W = 1358, H = 1138;
const plotLeft = 109.5, plotRight = 1303.5, facetGap = 7;

const svg = d3.select("#chart").append("svg")
    .attr("width", W).attr("height", H);

svg.append("rect").attr("width", W).attr("height", H).attr("fill", "#fff");

// thin frame around the figure
svg.append("rect")
    .attr("x", 8.5).attr("y", -2).attr("width", 1347).attr("height", 1069)
    .attr("fill", "none").attr("stroke", "#c6c6c6");

function drawPanel(cfg) {
    const { taxa, keys, colors, facets } = cfg;
    const colorOf = Object.fromEntries(keys.map((k, i) => [k, colors[i]]));

    const counts = facets.map(f => f.length);
    const nBars = d3.sum(counts);
    const step = (plotRight - plotLeft - facetGap * (facets.length - 1)) / nBars;

    const y = d3.scaleLinear().domain([0, 1]).range([cfg.plotBottom, cfg.plotTop]);

    const stack = d3.stack()
        .keys(keys.slice().reverse())           // bottom layer first
        .value((d, k) => d[k] || 0)
        .offset(d3.stackOffsetExpand);

    // panel tag
    svg.append("text")
        .attr("x", cfg.tagX).attr("y", cfg.tagY)
        .attr("font-size", 17).attr("font-weight", "bold").attr("fill", "#111")
        .text(cfg.tag);

    // ── Legend ─────────────────────────────────────────────────────────────────
    const lg = svg.append("g");
    const keySize = 22, rowStep = 25.5;
    let colX = 0;
    for (let c = 0; c < Math.ceil(taxa.length / 3); c++) {
        let maxW = 0;
        for (let r = 0; r < 3; r++) {
            const i = c * 3 + r;
            if (i >= taxa.length) break;
            lg.append("rect")
                .attr("x", colX).attr("y", r * rowStep)
                .attr("width", keySize).attr("height", keySize)
                .attr("fill", colors[i]);
            const t = lg.append("text")
                .attr("x", colX + keySize + 11).attr("y", r * rowStep + 16.5)
                .attr("font-size", 15.3).attr("fill", "#1a1a1a")
                .text(taxa[i]);
            maxW = Math.max(maxW, t.node().getComputedTextLength());
        }
        colX += keySize + 11 + maxW + (c < 6 ? 14 : 0);
    }
    const boxW = colX + 16 + 14;
    const boxX = (plotLeft + plotRight) / 2 - boxW / 2;
    lg.insert("rect", ":first-child")
        .attr("x", -16).attr("y", -10)
        .attr("width", boxW).attr("height", 92)
        .attr("fill", "#fff").attr("stroke", "#d4d4d4");
    lg.attr("transform", `translate(${boxX + 16},${cfg.legendTop + 10})`);

    // ── Y axis ─────────────────────────────────────────────────────────────────
    const yAxis = svg.append("g")
        .attr("transform", `translate(${plotLeft},0)`)
        .call(d3.axisLeft(y).tickValues(Y_TICKS).tickFormat(d3.format(".2f")).tickSize(4).tickPadding(3));
    yAxis.select(".domain").remove();
    yAxis.selectAll(".tick line").attr("stroke", "#333");
    yAxis.selectAll(".tick text")
        .attr("font-family", "'Liberation Sans', Arial, sans-serif")
        .attr("font-size", 14.5).attr("font-weight", "bold").attr("fill", "#333");

    svg.append("text")
        .attr("transform", `translate(66,${(cfg.plotTop + cfg.plotBottom) / 2}) rotate(-90)`)
        .attr("text-anchor", "middle")
        .attr("font-size", 17).attr("font-weight", "bold").attr("fill", "#1a1a1a")
        .text("Relative abundance");

    // ── Facets ─────────────────────────────────────────────────────────────────
    let offset = 0;
    facets.forEach((rows, fi) => {
        const x0 = plotLeft + offset * step + fi * facetGap;
        const x1 = x0 + rows.length * step;
        offset += rows.length;

        const x = d3.scaleBand()
            .domain(d3.range(rows.length))
            .range([x0, x1])
            .paddingInner(0.12).paddingOuter(0.06);

        // strip
        svg.append("rect")
            .attr("x", x0).attr("y", cfg.stripTop)
            .attr("width", x1 - x0).attr("height", cfg.plotTop - cfg.stripTop - 1)
            .attr("fill", "#D9D9D9").attr("stroke", "#333").attr("stroke-width", 1);
        svg.append("text")
            .attr("x", (x0 + x1) / 2).attr("y", cfg.stripTop + 18)
            .attr("text-anchor", "middle")
            .attr("font-size", 14).attr("font-weight", "bold").attr("fill", "#1a1a1a")
            .text(SITES[fi]);

        const series = stack(rows);
        svg.append("g")
            .selectAll("g")
            .data(series)
            .join("g")
            .attr("fill", s => colorOf[s.key])
            .selectAll("rect")
            .data(s => s)
            .join("rect")
            .attr("x", (d, i) => x(i))
            .attr("width", x.bandwidth())
            .attr("y", d => y(d[1]))
            .attr("height", d => Math.max(0, y(d[0]) - y(d[1])));

        // panel border
        svg.append("rect")
            .attr("x", x0).attr("y", cfg.plotTop)
            .attr("width", x1 - x0).attr("height", cfg.plotBottom - cfg.plotTop)
            .attr("fill", "none").attr("stroke", "#333").attr("stroke-width", 1);
    });
}

drawPanel({
    taxa: FUNGI_TAXA, keys: FUNGI_KEYS, colors: FUNGI_COLORS,
    facets: [fungiOPE2017, fungiOPE2018, fungiMarseille, fungiGrenoble],
    tag: "A", tagX: 57, tagY: 46,
    legendTop: 27, stripTop: 136.5, plotTop: 163, plotBottom: 513.5
});

drawPanel({
    taxa: BACT_TAXA, keys: BACT_KEYS, colors: BACT_COLORS,
    facets: [bactOPE2017, bactOPE2018, bactMarseille, bactGrenoble],
    tag: "B", tagX: 54, tagY: 615,
    legendTop: 555.5, stripTop: 664.5, plotTop: 691, plotBottom: 1041.5
});

// ── Caption ───────────────────────────────────────────────────────────────────
const capSize = 18.2;
const cap1 = svg.append("text")
    .attr("x", 25).attr("y", 1103)
    .attr("font-size", capSize).attr("fill", "#231f20");
cap1.append("tspan").attr("font-weight", "bold").text("FIGURE 2 | ");
cap1.append("tspan").text("Relative abundance of the top 20 fungi ");
cap1.append("tspan").attr("font-weight", "bold").text("(A)");
cap1.append("tspan").text(" and bacteria ");
cap1.append("tspan").attr("font-weight", "bold").text("(B)");
cap1.append("tspan").text(" detected in PM");
cap1.append("tspan").attr("font-size", 12).attr("dy", 4).text("10");
cap1.append("tspan").attr("dy", -4)
    .text(" samples at all sites. The samples are grouped by site location. X-axis");

svg.append("text")
    .attr("x", 25).attr("y", 1127)
    .attr("font-size", capSize).attr("fill", "#231f20")
    .text("corresponds to each individual daily sample ranged in chronological order.");
</script>
</body>
</html>
